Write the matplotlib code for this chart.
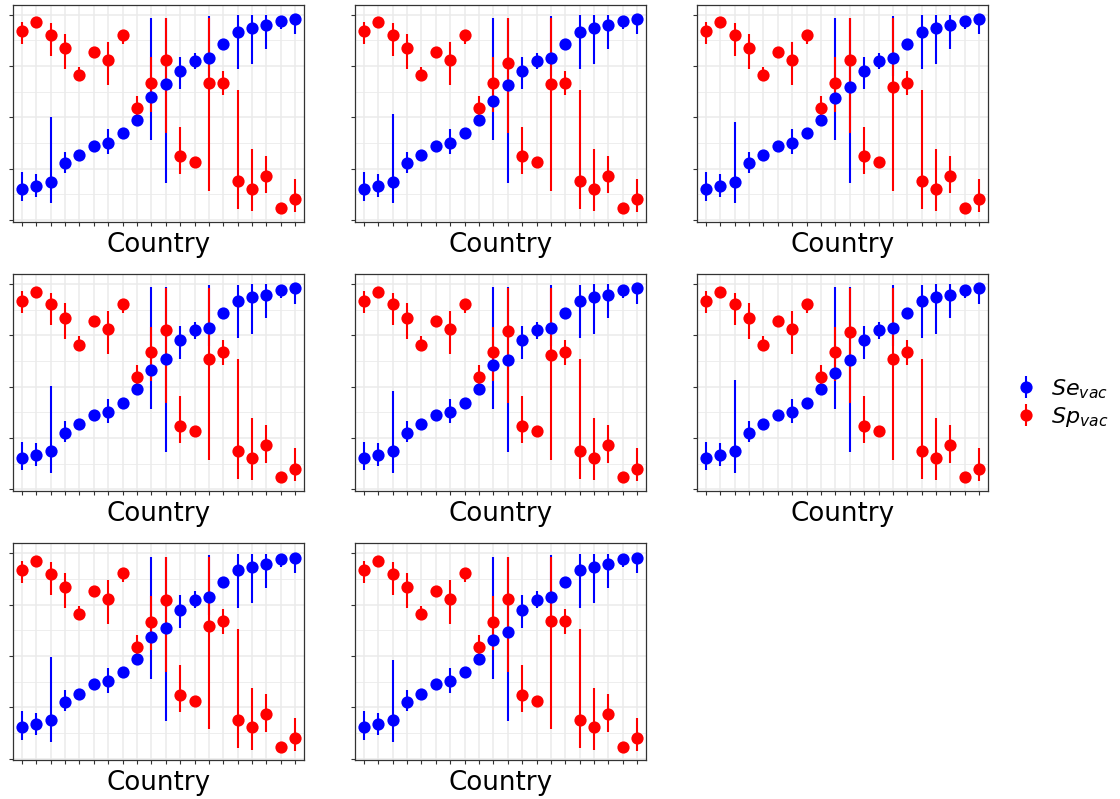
import matplotlib
matplotlib.use("Agg")
import matplotlib.pyplot as plt
import numpy as np

# ---- data (panel 1 as the base; per-panel values for the points that differ) ----
countries = list(range(1, 21))
se = [0.153, 0.167, 0.187, 0.276, 0.317, 0.362, 0.377, 0.422, 0.487, 0.597,
      0.661, 0.726, 0.774, 0.787, 0.859, 0.917, 0.935, 0.948, 0.972, 0.979]
se_lo = [0.093, 0.114, 0.081, 0.231, 0.307, 0.352, 0.321, 0.412, 0.477, 0.390,
         0.182, 0.636, 0.734, 0.700, 0.850, 0.735, 0.758, 0.833, 0.932, 0.904]
se_hi = [0.232, 0.224, 0.503, 0.333, 0.327, 0.372, 0.442, 0.432, 0.497, 0.984,
         0.984, 0.795, 0.815, 0.994, 0.868, 0.997, 0.998, 0.998, 0.990, 0.990]
sp = [0.919, 0.963, 0.901, 0.836, 0.705, 0.818, 0.779, 0.903, 0.545, 0.667,
      0.778, 0.310, 0.282, 0.666, 0.670, 0.188, 0.153, 0.216, 0.058, 0.101]
sp_lo = [0.857, 0.953, 0.799, 0.734, 0.679, 0.808, 0.657, 0.860, 0.511, 0.528,
         0.422, 0.226, 0.272, 0.143, 0.607, 0.052, 0.044, 0.130, 0.048, 0.039]
sp_hi = [0.964, 0.973, 0.958, 0.906, 0.745, 0.828, 0.869, 0.925, 0.604, 0.792,
         0.982, 0.455, 0.292, 0.982, 0.727, 0.633, 0.346, 0.313, 0.068, 0.200]

# per-panel values (8 panels)
se_c10 = [0.597, 0.581, 0.596, 0.581, 0.604, 0.568, 0.594, 0.580]
se_c11 = [0.661, 0.657, 0.649, 0.636, 0.631, 0.628, 0.636, 0.615]
sp_c11 = [0.778, 0.763, 0.779, 0.776, 0.771, 0.765, 0.771, 0.776]
sp_c14 = [0.666, 0.662, 0.649, 0.635, 0.654, 0.633, 0.648, 0.672]
se_c3_hi = [0.503, 0.515, 0.479, 0.502, 0.479, 0.531, 0.497, 0.479]

y_ticks = [0, 0.25, 0.5, 0.75, 1.0]
y_minor = [0.125, 0.375, 0.625, 0.875]
x_label = "Country"
legend_labels = [r"$Se_{vac}$", r"$Sp_{vac}$"]

BLUE = "#0000FF"
RED = "#FF0000"
MS = 8.8

W, H = 1120, 799
fig = plt.figure(figsize=(W / 100, H / 100), dpi=100)
fig.patch.set_facecolor("white")

lefts = [13.3, 355.3, 697.3]
tops = [4.7, 274.0, 543.3]
pw, ph = 290.5, 217.0

x = np.array(countries)
handles = None
for p in range(8):
    r, c = divmod(p, 3)
    ax = fig.add_axes([lefts[c] / W, 1 - (tops[r] + ph) / H, pw / W, ph / H])
    s = list(se); slo = list(se_lo); shi = list(se_hi)
    q = list(sp)
    s[9] = se_c10[p]
    s[10] = se_c11[p]
    shi[2] = se_c3_hi[p]
    q[10] = sp_c11[p]
    q[13] = sp_c14[p]

    ax.set_facecolor("white")
    ax.vlines(x, slo, shi, color=BLUE, lw=1.5, zorder=3)
    ax.vlines(x, sp_lo, sp_hi, color=RED, lw=1.5, zorder=3.1)
    ax.plot(x, s, "o", color=BLUE, ms=MS, mew=0, zorder=4)
    ax.plot(x, q, "o", color=RED, ms=MS, mew=0, zorder=4.1)

    if p == 0:
        hb = ax.errorbar([-10], [0.5], yerr=[[0.1], [0.1]], fmt="o", color=BLUE,
                         ms=MS, mew=0, elinewidth=1.5, label=legend_labels[0])
        hr = ax.errorbar([-10], [0.5], yerr=[[0.1], [0.1]], fmt="o", color=RED,
                         ms=MS, mew=0, elinewidth=1.5, label=legend_labels[1])
        handles = [hb, hr]

    ax.set_xlim(0.4, 20.6)
    ax.set_ylim(-0.008, 1.049)
    ax.set_xticks(x)
    ax.set_xticklabels([])
    ax.set_yticks(y_ticks)
    ax.set_yticks(y_minor, minor=True)
    ax.set_yticklabels([])
    ax.grid(True, which="major", color="#EBEBEB", lw=1.1, zorder=0)
    ax.grid(True, which="minor", axis="y", color="#EBEBEB", lw=0.6, zorder=0)
    ax.set_axisbelow(True)
    ax.tick_params(which="major", length=3.2, width=0.8, color="#333333")
    ax.tick_params(which="minor", length=0)
    for sp_ in ax.spines.values():
        sp_.set_color("#333333")
        sp_.set_linewidth(0.9)
    ax.set_xlabel(x_label, fontsize=18.8, labelpad=0.5)

fig.legend(handles, legend_labels, loc="center left",
           bbox_to_anchor=(995 / W, 1 - 403 / H), frameon=False,
           fontsize=16, handlelength=1.0, handletextpad=0.6, labelspacing=0.2)

fig.savefig("out.png", dpi=100)
